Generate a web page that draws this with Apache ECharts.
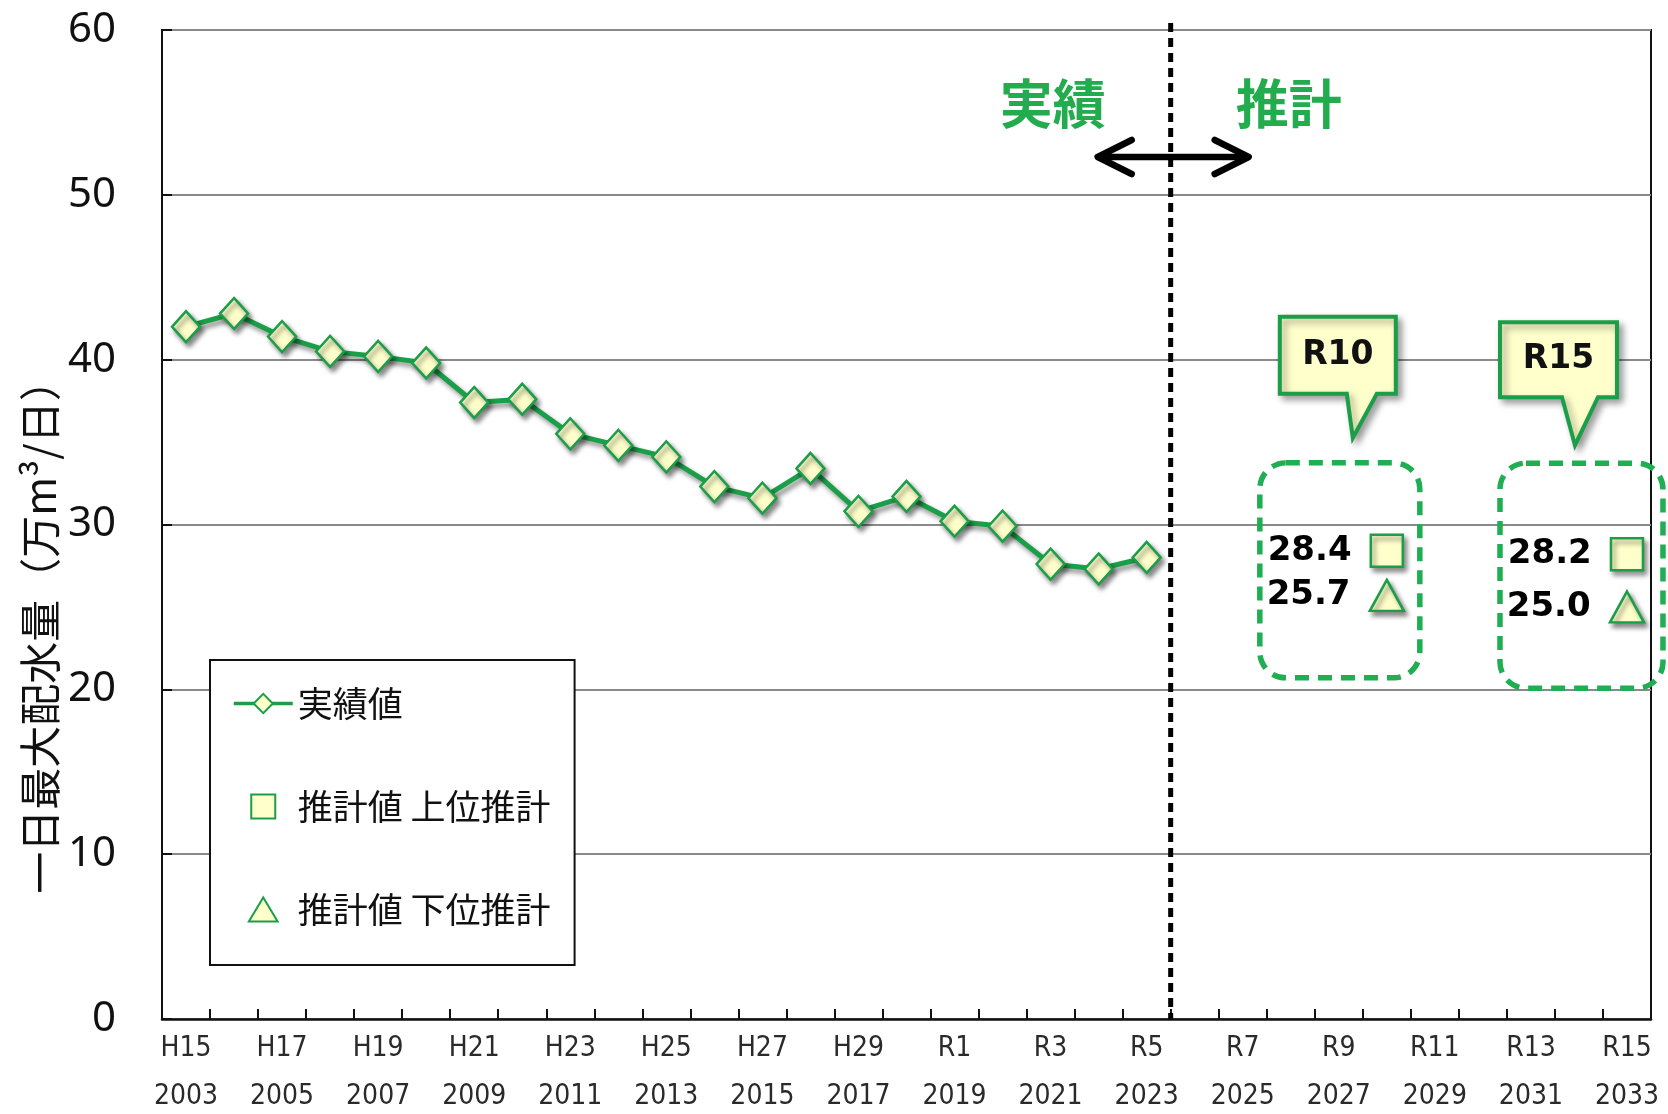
<!DOCTYPE html>
<html><head><meta charset="utf-8">
<script src="https://cdn.jsdelivr.net/npm/echarts@6/dist/echarts.min.js"></script>
<style>html,body{margin:0;padding:0;background:#fff}#c{width:1668px;height:1114px}</style>
</head><body><div id="c"></div>
<script>
// ---- data ----
const eraLabels = ['H15','H16','H17','H18','H19','H20','H21','H22','H23','H24','H25','H26','H27','H28','H29','H30',
  'R1','R2','R3','R4','R5','R6','R7','R8','R9','R10','R11','R12','R13','R14','R15'];
const years = [2003,2004,2005,2006,2007,2008,2009,2010,2011,2012,2013,2014,2015,2016,2017,2018,
  2019,2020,2021,2022,2023,2024,2025,2026,2027,2028,2029,2030,2031,2032,2033];
const actualValues = [42.0,42.8,41.4,40.5,40.2,39.8,37.4,37.6,35.5,34.8,34.1,32.3,31.6,33.4,30.8,31.7,30.2,29.9,27.6,27.3,28.0];
const projEras = ['R10','R15'];
const upperValues = [28.4, 28.2];
const lowerValues = [25.7, 25.0];
const yMin = 0, yMax = 60, yStep = 10;
const seriesNames = ['実績値','推計値 上位推計','推計値 下位推計'];
const yAxisTitle = '一日最大配水量（万m³/日）';
const phaseLabels = ['実績','推計'];

// ---- chart ----
const GREEN = '#1a9e48';
const FILL = '#ffffcc';
const categories = eraLabels.map((e,i)=> e + '\n' + years[i]);
const projIdx = projEras.map(e => eraLabels.indexOf(e));
const shadow = {shadowBlur:5, shadowColor:'rgba(0,0,0,0.45)', shadowOffsetX:3, shadowOffsetY:4};
const noShadow = {shadowBlur:0, shadowColor:'rgba(0,0,0,0)', shadowOffsetX:0, shadowOffsetY:0};
const SQUARE_ICON = 'path://M0,0L10,0L10,10L0,10Z';
const TRI_ICON = 'path://M6,0L12,10L0,10Z';

const chart = echarts.init(document.getElementById('c'), null, {renderer:'canvas'});
chart.setOption({
  animation:false,
  backgroundColor:'#fff',
  grid:{left:162, right:17, top:30, bottom:95, show:true, borderColor:'#111', borderWidth:2,
    containLabel:false, outerBoundsMode:'none'},
  xAxis:{type:'category', data:categories, boundaryGap:true,
    axisLine:{lineStyle:{color:'#111', width:2.5}},
    axisTick:{show:true, inside:true, interval:0, length:10, lineStyle:{color:'#111', width:2}},
    axisLabel:{interval:1, fontSize:28, lineHeight:48, margin:6, color:'#2a2a2a', fontFamily:'DejaVu Sans Condensed, DejaVu Sans'},
    splitLine:{show:false}},
  yAxis:{type:'value', min:yMin, max:yMax, interval:yStep,
    axisLine:{show:true, lineStyle:{color:'#111', width:2}},
    axisTick:{show:true, inside:true, length:10, lineStyle:{color:'#111', width:2}},
    axisLabel:{fontSize:42, color:'#111', margin:46, fontFamily:'Noto Sans', padding:[0,0,20,0]},
    splitLine:{lineStyle:{color:'#8a8a8a', width:2}}},
  legend:{orient:'vertical', left:210, top:660, itemWidth:59, itemHeight:24, itemGap:68,
    padding:[26,24,38,22], borderColor:'#111', borderWidth:2, backgroundColor:'#fff',
    textStyle:{fontSize:35, color:'#111', fontFamily:'Noto Sans CJK JP'},
    itemStyle:noShadow, lineStyle:Object.assign({width:3.5}, noShadow), symbolKeepAspect:true,
    data:[{name:seriesNames[0]},{name:seriesNames[1], icon:SQUARE_ICON},{name:seriesNames[2], icon:TRI_ICON}],
    selectedMode:false},
  series:[
    {name:seriesNames[0], type:'line', data:actualValues, symbol:'diamond', symbolSize:[28,31],
     lineStyle:Object.assign({color:GREEN, width:5}, shadow),
     itemStyle:Object.assign({color:FILL, borderColor:GREEN, borderWidth:2.5}, shadow), z:3},
    {name:seriesNames[1], type:'scatter', data:projIdx.map((x,i)=>[x, upperValues[i]]), symbol:'rect', symbolSize:32,
     itemStyle:Object.assign({color:FILL, borderColor:GREEN, borderWidth:2.5, opacity:1}, shadow),
     label:{show:true, position:'left', distance:18, fontSize:34, fontWeight:'bold', color:'#000', fontFamily:'DejaVu Sans',
       formatter:p=>p.value[1].toFixed(1)}, z:4},
    {name:seriesNames[2], type:'scatter', data:projIdx.map((x,i)=>[x, lowerValues[i]]), symbol:'triangle', symbolSize:[34,31],
     itemStyle:Object.assign({color:FILL, borderColor:GREEN, borderWidth:2.5, opacity:1}, shadow),
     label:{show:true, position:'left', distance:18, fontSize:34, fontWeight:'bold', color:'#000', fontFamily:'DejaVu Sans',
       formatter:p=>p.value[1].toFixed(1)}, z:4}
  ]
});

// ---- annotations anchored to the axes ----
function px(i, v){ return chart.convertToPixel({xAxisIndex:0, yAxisIndex:0}, [i, v]); }
const lastActual = actualValues.length - 1;
const bx = (px(lastActual, 0)[0] + px(lastActual + 1, 0)[0]) / 2;
const topY = px(0, yMax)[1];
const botY = px(0, yMin)[1];
const g = [];
// vertical dotted divider
g.push({type:'line', shape:{x1:bx, y1:topY-7, x2:bx, y2:botY}, style:{stroke:'#000', lineWidth:5, lineDash:[9,6]}, z:50});
// phase labels
g.push({type:'text', x:bx-65, y:topY+74, style:{text:phaseLabels[0], fill:'#22ac4e', font:'bold 53px "Noto Sans CJK JP"', align:'right', verticalAlign:'middle'}, z:50});
g.push({type:'text', x:bx+65, y:topY+74, style:{text:phaseLabels[1], fill:'#22ac4e', font:'bold 53px "Noto Sans CJK JP"', align:'left', verticalAlign:'middle'}, z:50});
// double arrow
const ay = topY + 127, ax1 = bx - 73, ax2 = bx + 78;
const arrowStyle = {stroke:'#000', lineWidth:6.5, lineCap:'round', lineJoin:'round', fill:null};
g.push({type:'line', shape:{x1:ax1+3, y1:ay, x2:ax2-3, y2:ay}, style:arrowStyle, z:51});
g.push({type:'polyline', shape:{points:[[ax1+34,ay-17],[ax1,ay],[ax1+34,ay+17]]}, style:arrowStyle, z:51});
g.push({type:'polyline', shape:{points:[[ax2-34,ay-17],[ax2,ay],[ax2-34,ay+17]]}, style:arrowStyle, z:51});

// callouts & dashed boxes
const calloutGeom = [
  {box:[-107,9,-234,-157], base:[-40,-10], tip:[-34,-113], dash:[-127,33,-88,127]},
  {box:[-127,-10,-232,-157], base:[-65,-29], tip:[-52,-109], dash:[-127,36,-91,134]}
];
projIdx.forEach((xi, k)=>{
  const [cx, cy] = px(xi, upperValues[k]);
  const G = calloutGeom[k];
  const [L,R,T,B] = G.box;
  g.push({type:'polygon', shape:{points:[
    [cx+L,cy+T],[cx+R,cy+T],[cx+R,cy+B],[cx+G.base[1],cy+B],[cx+G.tip[0],cy+G.tip[1]],[cx+G.base[0],cy+B],[cx+L,cy+B]]},
    style:{fill:FILL, stroke:GREEN, lineWidth:4, lineJoin:'miter', shadowBlur:7, shadowColor:'rgba(0,0,0,0.35)', shadowOffsetX:4, shadowOffsetY:4}, z:40});
  g.push({type:'text', x:cx+(L+R)/2, y:cy+(T+B)/2, style:{text:projEras[k], fill:'#111', font:'bold 33px "DejaVu Sans"', align:'center', verticalAlign:'middle'}, z:41});
  const [dl,dr,dt,db] = G.dash;
  g.push({type:'rect', shape:{x:cx+dl, y:cy+dt, width:dr-dl, height:db-dt, r:26},
    style:{fill:null, stroke:'#1fae52', lineWidth:5.5, lineDash:[14,9]}, z:30});
});
// y-axis title
g.push({type:'text', x:40, y:(topY+botY)/2 + 102, rotation:Math.PI/2,
  style:{text:yAxisTitle, fill:'#111', font:'42px "Noto Sans CJK JP"', align:'center', verticalAlign:'middle'}, z:50});
chart.setOption({graphic:g});
</script>
</body></html>
